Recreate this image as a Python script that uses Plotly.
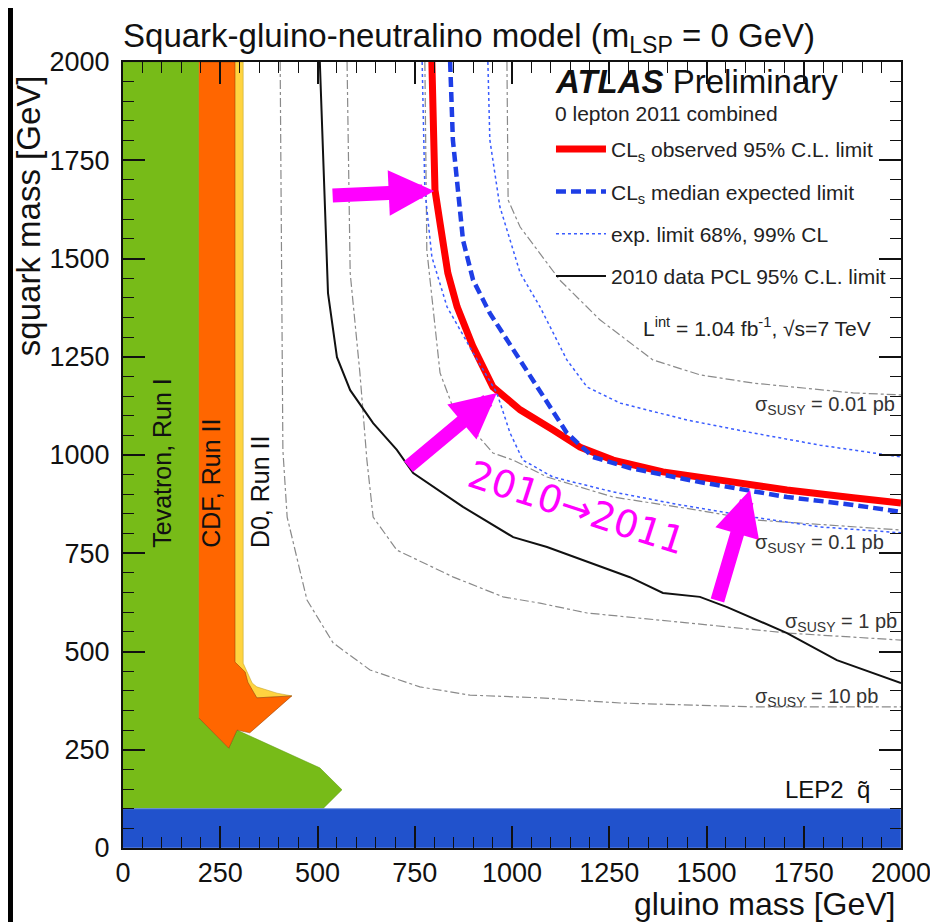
import plotly.graph_objects as go

# ---------------- data (GeV) ----------------
# CLs observed 95% CL limit (2011)
obs_gluino = [794, 802, 815, 835, 859, 900, 951, 1021, 1105, 1175, 1260, 1388, 1535, 1707, 1877, 2000]
obs_squark = [2000, 1674, 1590, 1463, 1377, 1275, 1173, 1115, 1064, 1020, 987, 957, 936, 911, 891, 878]
# CLs median expected limit
exp_gluino = [841, 848, 874, 900, 943, 1003, 1064, 1141, 1208, 1303, 1483, 1707, 1877, 2000]
exp_squark = [2000, 1802, 1547, 1445, 1361, 1267, 1173, 1056, 995, 967, 931, 893, 873, 855]
# expected limit bands (inner / outer)
band_lo_gluino = [769, 776, 794, 833, 900, 961, 995, 1028, 1105, 1260, 1432, 1620, 1792, 2000]
band_lo_squark = [2000, 1674, 1504, 1377, 1260, 1158, 1056, 987, 944, 906, 873, 842, 817, 802]
band_hi_gluino = [938, 943, 969, 1021, 1072, 1141, 1193, 1278, 1450, 1620, 1792, 2000]
band_hi_squark = [2000, 1802, 1631, 1463, 1377, 1242, 1173, 1132, 1089, 1056, 1025, 995]
# 2010 data PCL 95% CL limit
pcl_gluino = [506, 527, 550, 584, 643, 704, 746, 874, 1003, 1090, 1303, 1388, 1483, 1553, 1707, 1835, 2000]
pcl_squark = [2000, 1412, 1249, 1165, 1081, 1013, 954, 868, 791, 766, 689, 649, 639, 613, 547, 478, 420]
# SUSY cross-section contours
xs10_gluino = [404, 411, 422, 473, 540, 635, 763, 892, 1072, 1278, 1620, 2000]
xs10_squark = [2000, 1013, 842, 631, 522, 453, 410, 389, 382, 369, 359, 359]
xs1_gluino = [576, 584, 609, 627, 643, 704, 848, 977, 1072, 1193, 1450, 1707, 2000]
xs1_squark = [2000, 1463, 1209, 987, 842, 758, 690, 639, 623, 598, 573, 547, 529]
xs01_gluino = [776, 781, 815, 848, 951, 1003, 1090, 1260, 1476, 1620, 2000]
xs01_squark = [2000, 1522, 1209, 1122, 1005, 987, 944, 893, 860, 835, 809]
xs001_gluino = [987, 990, 1021, 1072, 1123, 1226, 1285, 1362, 1483, 1620, 1877, 2000]
xs001_squark = [2000, 1649, 1580, 1514, 1445, 1344, 1300, 1242, 1204, 1183, 1158, 1153]
# previous exclusions
tev_gluino = [0, 195, 195, 272, 293, 506, 563, 514, 0]
tev_squark = [2000, 2000, 331, 254, 300, 204, 148, 100, 100]
cdf_gluino = [195, 288, 288, 314, 321, 344, 434, 326, 293, 272, 195]
cdf_squark = [2000, 2000, 473, 448, 422, 382, 387, 293, 300, 254, 331]
d0_gluino = [288, 309, 309, 332, 344, 396, 434, 344, 288]
d0_squark = [2000, 2000, 470, 420, 410, 394, 387, 382, 470]
lep2_squark_limit = 100
axis_max = 2000
# arrows 2010 -> 2011 : (tail gluino, tail squark, tip gluino, tip squark)
arrows = [(535, 1660, 800, 1672), (730, 967, 961, 1158), (1527, 626, 1612, 911)]
# cross-section labels: (text, gluino, squark)
xs_labels = [("σ<sub>SUSY</sub> = 0.01 pb", 1620, 1127),
             ("σ<sub>SUSY</sub> = 0.1 pb", 1620, 776),
             ("σ<sub>SUSY</sub> = 1 pb", 1697, 573),
             ("σ<sub>SUSY</sub> = 10 pb", 1620, 384)]
tick_vals = [0, 250, 500, 750, 1000, 1250, 1500, 1750, 2000]

FONT = "Liberation Sans, Arial, sans-serif"

fig = go.Figure()

# filled regions
fig.add_trace(go.Scatter(x=tev_gluino, y=tev_squark, fill="toself", mode="lines",
                         line=dict(color="#5f9a12", width=0.5), fillcolor="#77BB18",
                         showlegend=False, hoverinfo="skip"))
fig.add_trace(go.Scatter(x=d0_gluino, y=d0_squark, fill="toself", mode="lines",
                         line=dict(color="#b89a20", width=0.5), fillcolor="#FFD440",
                         showlegend=False, hoverinfo="skip"))
fig.add_trace(go.Scatter(x=cdf_gluino, y=cdf_squark, fill="toself", mode="lines",
                         line=dict(color="#8a3a00", width=0.5), fillcolor="#FF6600",
                         showlegend=False, hoverinfo="skip"))
fig.add_trace(go.Scatter(x=[0, axis_max, axis_max, 0], y=[0, 0, lep2_squark_limit, lep2_squark_limit],
                         fill="toself", mode="lines", line=dict(color="#6f8fe0", width=1),
                         fillcolor="#2152CC", showlegend=False, hoverinfo="skip"))

# cross-section contours
for gx, sy in [(xs10_gluino, xs10_squark), (xs1_gluino, xs1_squark),
               (xs01_gluino, xs01_squark), (xs001_gluino, xs001_squark)]:
    fig.add_trace(go.Scatter(x=gx, y=sy, mode="lines", line=dict(color="#8a8a8a", width=1.2, dash="dashdot"),
                             showlegend=False, hoverinfo="skip"))

# limits
fig.add_trace(go.Scatter(x=obs_gluino, y=obs_squark, mode="lines", name="CL<sub>s</sub> observed 95% C.L. limit",
                         line=dict(color="#FF0000", width=7), legendgroup="a"))
fig.add_trace(go.Scatter(x=exp_gluino, y=exp_squark, mode="lines", name="CL<sub>s</sub> median expected limit",
                         line=dict(color="#1E3EE6", width=4.5, dash="10px,5px"), legendgroup="b"))
fig.add_trace(go.Scatter(x=band_lo_gluino, y=band_lo_squark, mode="lines", name="exp. limit 68%, 99% CL",
                         line=dict(color="#3a5cff", width=1.5, dash="dot"), legendgroup="c"))
fig.add_trace(go.Scatter(x=pcl_gluino, y=pcl_squark, mode="lines", name="2010 data PCL 95% C.L. limit",
                         line=dict(color="#111111", width=2), legendgroup="d"))
fig.add_trace(go.Scatter(x=band_hi_gluino, y=band_hi_squark, mode="lines", showlegend=False,
                         line=dict(color="#3a5cff", width=1.5, dash="dot"), legendgroup="c"))

ann = []
for tg, ts, hg, hs in arrows:
    ann.append(dict(x=hg, y=hs, ax=tg, ay=ts, xref="x", yref="y", axref="x", ayref="y",
                    text="", showarrow=True, arrowhead=2, arrowsize=0.65, arrowwidth=14,
                    arrowcolor="#FF00FF", standoff=0))
ann.append(dict(x=1167, y=865, xref="x", yref="y", text="2010→2011", showarrow=False,
                textangle=18, font=dict(family="DejaVu Sans", size=38, color="#FF00FF")))
for t, gx, sy in xs_labels:
    ann.append(dict(x=gx, y=sy, xref="x", yref="y", text=t, showarrow=False, xanchor="left",
                    font=dict(family=FONT, size=20, color="#333333")))
for t, gx, sy in [("Tevatron, Run I", 100, 980), ("CDF, Run II", 226, 929), ("D0, Run II", 352, 908)]:
    ann.append(dict(x=gx, y=sy, xref="x", yref="y", text=t, showarrow=False, textangle=-90,
                    font=dict(family=FONT, size=25, color="#111111")))
ann.append(dict(x=1925, y=148, xref="x", yref="y", text="LEP2  q̃", showarrow=False, xanchor="right",
                font=dict(family=FONT, size=24, color="#111111")))
ann.append(dict(x=0.553, y=0.9746, xref="paper", yref="paper", xanchor="left", yanchor="middle",
                text="<b><i>ATLAS</i></b> Preliminary", showarrow=False,
                font=dict(family=FONT, size=33, color="#111111")))
ann.append(dict(x=0.553, y=0.935, xref="paper", yref="paper", xanchor="left", yanchor="middle",
                text="0 lepton 2011 combined", showarrow=False,
                font=dict(family=FONT, size=21, color="#222222")))
ann.append(dict(x=0.964, y=0.663, xref="paper", yref="paper", xanchor="right", yanchor="middle",
                text="L<sup>int</sup> = 1.04 fb<sup>-1</sup>, √s=7 TeV", showarrow=False,
                font=dict(family=FONT, size=21, color="#222222")))
ann.append(dict(x=0.995, y=-0.071, xref="paper", yref="paper", xanchor="right", yanchor="middle",
                text="gluino mass [GeV]", showarrow=False, font=dict(family=FONT, size=32, color="#111111")))
ann.append(dict(x=-0.122, y=0.804, xref="paper", yref="paper", xanchor="center", yanchor="middle",
                text="squark mass [GeV]", showarrow=False, textangle=-90,
                font=dict(family=FONT, size=33, color="#111111")))

axis_common = dict(range=[0, axis_max], tickvals=tick_vals, ticks="inside", ticklen=22, tickwidth=1.5,
                   tickcolor="#111111", showline=True, linecolor="#111111", linewidth=2, mirror="ticks",
                   showgrid=False, zeroline=False, automargin=False,
                   minor=dict(dtick=50, ticklen=11, tickwidth=1.2, tickcolor="#111111", ticks="inside", showgrid=False),
                   tickfont=dict(family=FONT, size=27, color="#111111"))

# page body adds an 8 px offset; figure sized so that the plot frame sits where the reference has it
fig.update_layout(
    width=930, height=914,
    margin=dict(l=115, r=37, t=54, b=74),
    paper_bgcolor="white", plot_bgcolor="white",
    title=dict(text="Squark-gluino-neutralino model (m<sub>LSP</sub> = 0 GeV)", x=0.1237, xanchor="left",
               xref="container", y=0.9705, yref="container", yanchor="middle",
               font=dict(family=FONT, size=33, color="#111111")),
    xaxis=dict(**axis_common, ticklabelstandoff=0),
    yaxis=dict(**axis_common, ticklabelstandoff=6),
    annotations=ann,
    legend=dict(x=0.5501, y=0.9148, xanchor="left", yanchor="top", bgcolor="rgba(0,0,0,0)",
                font=dict(family=FONT, size=21, color="#222222"), traceorder="grouped",
                tracegroupgap=12, itemwidth=50),
    shapes=[dict(type="rect", xref="paper", yref="paper", x0=-0.25, x1=-0.1414, y0=-0.2, y1=1.2,
                 fillcolor="black", line=dict(width=0), layer="above")],
    showlegend=True,
)

fig.write_html("out.html")
